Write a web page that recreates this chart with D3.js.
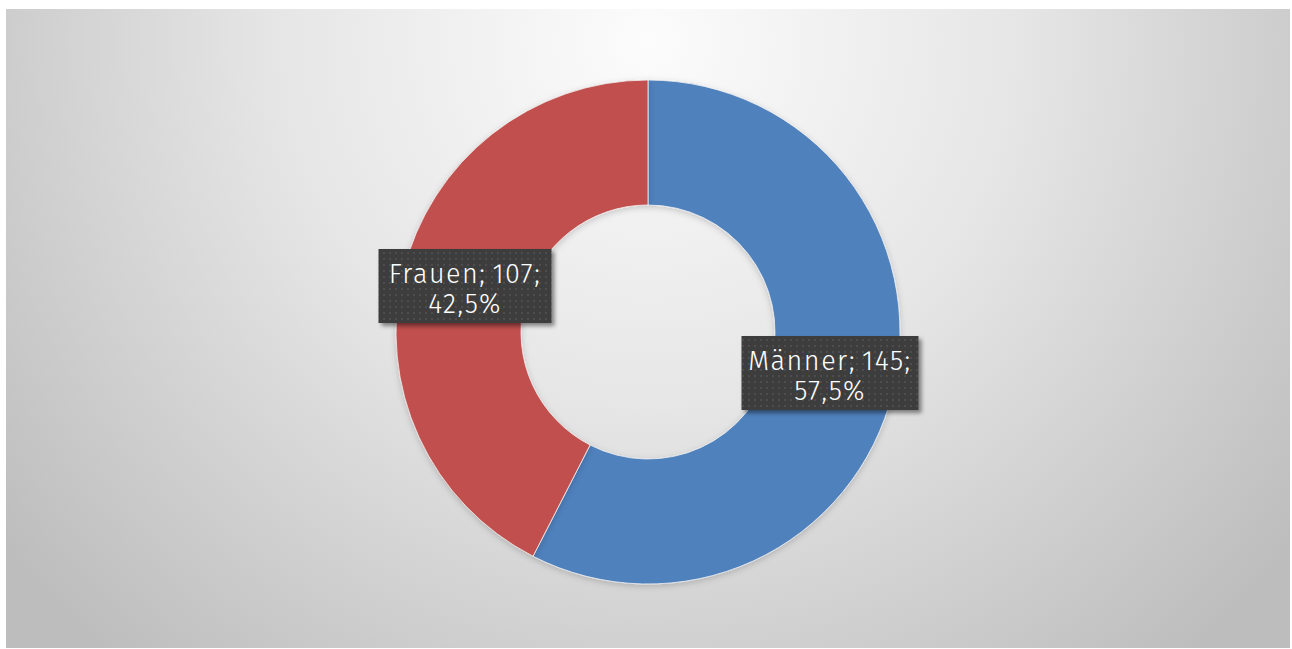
<!DOCTYPE html>
<html lang="de">
<head>
<meta charset="UTF-8">
<title>Männer / Frauen</title>
<script src="https://cdnjs.cloudflare.com/ajax/libs/d3/7.8.5/d3.min.js"></script>
<style>
  * { margin: 0; padding: 0; }
  html, body { background: #fff; }
  svg { display: block; }
</style>
</head>
<body>
<div id="chart"></div>
<script>
  // Daten
  const categories = ['Männer', 'Frauen']
  const values = [145, 107]
  const percents = ['57,5%', '42,5%']
  const colors = ['#4F81BD', '#C0504D']

  const W = 1292, H = 649
  const cx = 648, cy = 332
  const rOuter = 252, rInner = 127

  const svg = d3.select('#chart').append('svg')
    .attr('width', W).attr('height', H)

  const defs = svg.append('defs')
  const grad = defs.append('radialGradient')
    .attr('id', 'bg')
    .attr('gradientUnits', 'userSpaceOnUse')
    .attr('cx', 648).attr('cy', 40).attr('r', 820)
  grad.append('stop').attr('offset', '0').attr('stop-color', '#fcfcfc')
  grad.append('stop').attr('offset', '0.45').attr('stop-color', '#e6e6e6')
  grad.append('stop').attr('offset', '1').attr('stop-color', '#bdbdbd')

  const pat = defs.append('pattern')
    .attr('id', 'dots')
    .attr('patternUnits', 'userSpaceOnUse')
    .attr('width', 6).attr('height', 6)
  pat.append('rect').attr('width', 6).attr('height', 6).attr('fill', '#3c3c3c')
  pat.append('rect').attr('x', 2).attr('y', 2).attr('width', 2).attr('height', 2).attr('fill', '#4e4e4e')

  const shadow = defs.append('filter').attr('id', 'shadow')
    .attr('x', '-10%').attr('y', '-10%').attr('width', '130%').attr('height', '140%')
  shadow.append('feDropShadow')
    .attr('dx', 3).attr('dy', 3).attr('stdDeviation', 2)
    .attr('flood-color', '#000').attr('flood-opacity', 0.45)

  const ringShadow = defs.append('filter').attr('id', 'ringShadow')
    .attr('x', '-10%').attr('y', '-10%').attr('width', '120%').attr('height', '120%')
  ringShadow.append('feDropShadow')
    .attr('dx', 0).attr('dy', 2).attr('stdDeviation', 3)
    .attr('flood-color', '#000').attr('flood-opacity', 0.18)

  svg.append('rect')
    .attr('x', 6).attr('y', 9).attr('width', 1284).attr('height', 639)
    .attr('fill', 'url(#bg)')

  const pie = d3.pie().sort(null).value(d => d)
  const arcs = pie(values)
  const arc = d3.arc().innerRadius(rInner).outerRadius(rOuter)

  const g = svg.append('g').attr('transform', `translate(${cx},${cy})`)
  g.selectAll('path').data(arcs).join('path')
    .attr('d', arc)
    .attr('fill', (d, i) => colors[i])
    .attr('stroke', '#f2f2f2')
    .attr('stroke-width', 0.8)
    .attr('filter', 'url(#ringShadow)')

  // Beschriftungen
  const labelPos = [[830, 373], [465, 286]]
  const labels = svg.selectAll('.lbl').data(arcs).join('g')
    .attr('class', 'lbl')
    .attr('transform', (d, i) => `translate(${labelPos[i][0]},${labelPos[i][1]})`)

  const boxW = [177, 173], boxH = 74
  labels.append('rect')
    .attr('x', (d, i) => -boxW[i] / 2).attr('y', -boxH / 2)
    .attr('width', (d, i) => boxW[i]).attr('height', boxH)
    .attr('fill', 'url(#dots)')
    .attr('filter', 'url(#shadow)')

  const txt = labels.append('text')
    .attr('text-anchor', 'middle')
    .attr('fill', '#fff')
    .style('font-family', '"Fira Sans", "Open Sans", "Noto Sans", sans-serif')
    .style('font-weight', 300)
    .style('font-size', '27px')
    .style('letter-spacing', '1.5px')
    .style('word-spacing', '-3px')
  txt.append('tspan').attr('x', 0).attr('y', -3)
    .text((d, i) => `${categories[i]}; ${values[i]};`)
  txt.append('tspan').attr('x', 0).attr('y', 27)
    .text((d, i) => percents[i])
</script>
</body>
</html>
